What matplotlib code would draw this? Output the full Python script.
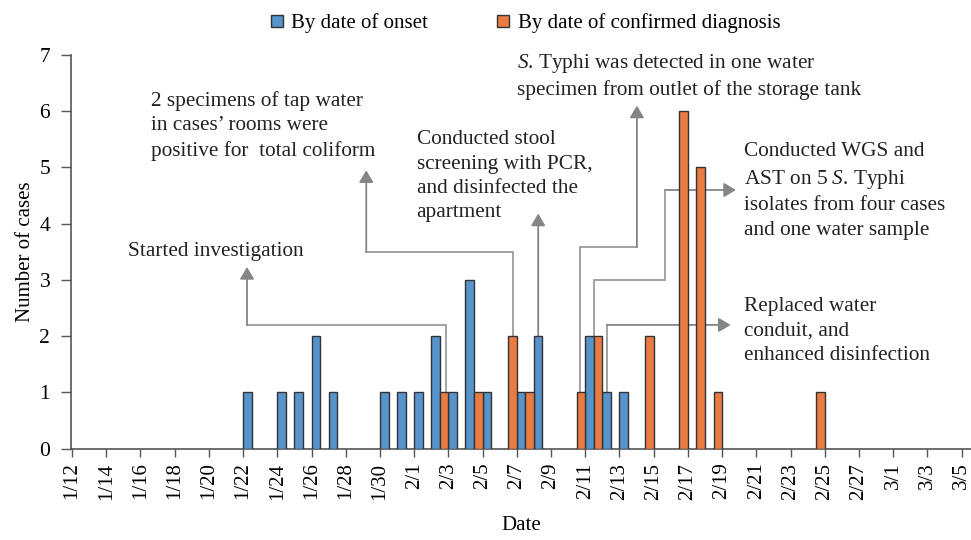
import matplotlib.pyplot as plt
from matplotlib.lines import Line2D
import pandas as pd

plt.rcParams['font.family'] = ['Liberation Serif', 'DejaVu Serif']
plt.rcParams['mathtext.fontset'] = 'custom'
plt.rcParams['mathtext.rm'] = 'Liberation Serif'
plt.rcParams['mathtext.it'] = 'Liberation Serif:italic'

# data
start = '2019-01-12'
end = '2019-03-05'
onset_dates = ['1/22', '1/24', '1/25', '1/26', '1/27', '1/30', '1/31', '2/1', '2/2',
               '2/3', '2/4', '2/5', '2/7', '2/8', '2/11', '2/12', '2/13']
onset_counts = [1, 1, 1, 2, 1, 1, 1, 1, 2, 1, 3, 1, 1, 2, 2, 1, 1]
diag_dates = ['2/3', '2/5', '2/7', '2/8', '2/11', '2/12', '2/15', '2/17', '2/18', '2/19', '2/25']
diag_counts = [1, 1, 2, 1, 1, 2, 2, 6, 5, 1, 1]

days = pd.date_range(start, end)
labels = [f"{d.month}/{d.day}" for d in days]
idx = {lab: i for i, lab in enumerate(labels)}

blue = '#5694CB'
orange = '#E97C43'
edge = '#333333'
grey = '#9b9b9b'
head = '#858585'

fig = plt.figure(figsize=(9.71, 5.40), dpi=100)
ax = fig.add_axes([71/971, 1-448.7/540, 1-71/971, (448.7-55)/540])

xb = [idx[d] + 0.25 for d in onset_dates]
xo = [idx[d] - 0.25 for d in diag_dates]
ax.bar(xb, onset_counts, width=0.5, color=blue, edgecolor=edge, linewidth=1, zorder=3)
ax.bar(xo, diag_counts, width=0.5, color=orange, edgecolor=edge, linewidth=1, zorder=3)

ax.set_xlim(-0.06, 52.55)
ax.set_ylim(0, 7)
ax.set_yticks(range(0, 8))
ax.set_xticks(range(0, len(labels), 2))
ax.set_xticklabels(labels[::2], rotation=90, fontsize=15)
ax.tick_params(axis='y', labelsize=15.5, length=7, color='#555555', width=1, pad=8)
ax.tick_params(axis='x', length=6, color='#555555', width=1, pad=4)
for s in ['top', 'right']:
    ax.spines[s].set_visible(False)
for s in ['left', 'bottom']:
    ax.spines[s].set_color('#555555')
    ax.spines[s].set_linewidth(1.2)
ax.set_ylabel('Number of cases', fontsize=15, labelpad=3)
ax.set_xlabel('Date', fontsize=15, labelpad=12)


def path(points):
    xs = [p[0] for p in points[:-1]]
    ys = [p[1] for p in points[:-1]]
    ax.plot(xs, ys, color=grey, lw=1.3, zorder=2, solid_joinstyle='miter')
    ax.annotate('', xy=points[-1], xytext=points[-2],
                arrowprops=dict(arrowstyle='-|>,head_length=0.72,head_width=0.43',
                                color=grey, lw=1.3, shrinkA=0, shrinkB=0,
                                fc=head, ec=head), zorder=2)


path([(21.86, 1.0), (21.86, 2.2), (10.23, 2.2), (10.23, 3.23)])
path([(25.79, 2.0), (25.79, 3.5), (17.2, 3.5), (17.2, 4.95)])
path([(27.25, 2.0), (27.25, 4.18)])
path([(29.71, 1.0), (29.71, 3.58), (33.02, 3.58), (33.02, 6.1)])
path([(30.49, 2.0), (30.49, 3.0), (34.68, 3.0), (34.68, 4.6), (38.81, 4.6)])
path([(31.25, 1.0), (31.25, 2.2), (38.5, 2.2)])

fs = 15.3
ls = 1.37
tc = '#222222'
# y positions are the baselines of the last line
ax.text(4.60, 5.21, "2 specimens of tap water\nin cases\u2019 rooms were\npositive for  total coliform",
        fontsize=fs, va='baseline', color=tc, linespacing=ls)
ax.text(3.29, 3.43, "Started investigation", fontsize=fs, va='baseline', color=tc)
ax.text(20.14, 4.12, "Conducted stool\nscreening with PCR,\nand disinfected the\napartment",
        fontsize=fs, va='baseline', color=tc, linespacing=ls)
ax.text(26.0, 6.29, "$\\mathit{S}$. Typhi was detected in one water\nspecimen from outlet of the storage tank",
        fontsize=fs, va='baseline', color=tc, linespacing=ls)
ax.text(39.28, 3.80, "Conducted WGS and\nAST on 5 $\\mathit{S}$. Typhi\nisolates from four cases\nand one water sample",
        fontsize=fs, va='baseline', color=tc, linespacing=1.4)
ax.text(39.28, 1.58, "Replaced water\nconduit, and\nenhanced disinfection",
        fontsize=fs, va='baseline', color=tc, linespacing=1.4)

handles = [Line2D([], [], ls='', marker='s', markersize=9, mfc=blue, mec=edge, mew=1,
                  label='By date of onset'),
           Line2D([], [], ls='', marker='s', markersize=9, mfc=orange, mec=edge, mew=1,
                  label='By date of confirmed diagnosis')]
fig.legend(handles=handles, loc='upper center', bbox_to_anchor=(0.541, 1.01), ncol=2,
           frameon=False, fontsize=15, handlelength=0.6,
           handletextpad=0.4, columnspacing=3.3)

fig.savefig('out.png', dpi=100)
